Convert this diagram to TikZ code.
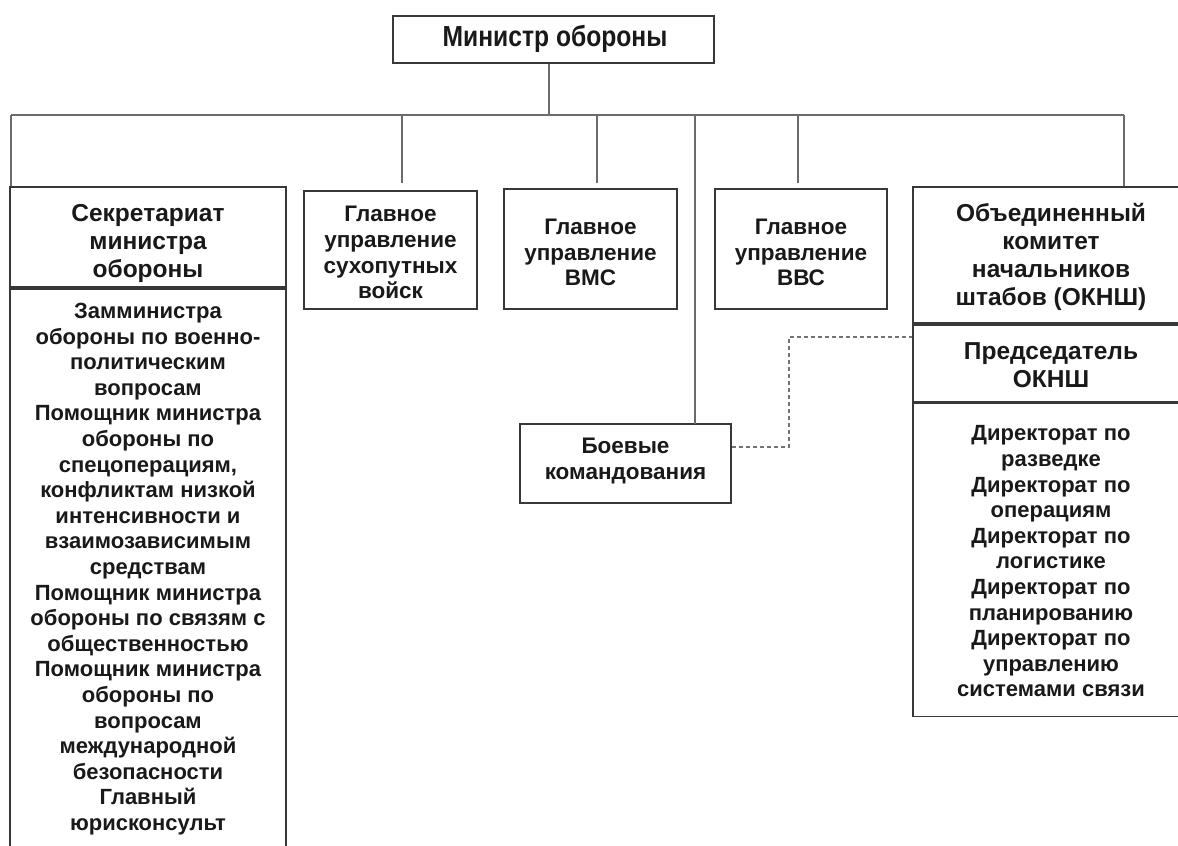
\documentclass[tikz,border=0pt]{standalone}
\usepackage{fontspec}
\setmainfont{Liberation Sans}
\begin{document}
\begin{tikzpicture}[x=1pt,y=-1pt,
  box/.style={draw=black!78,line width=1.7pt,fill=white,inner sep=0pt},
  lbl/.style={align=center,inner sep=0pt,text=black!90},
  fbody/.style={font=\bfseries\fontsize{22}{25.6}\selectfont},
  fmid/.style={font=\bfseries\fontsize{22.5}{25.8}\selectfont},
  fhead/.style={font=\bfseries\fontsize{24.5}{28}\selectfont},
  conn/.style={draw=black!58,line width=1.8pt},
  dconn/.style={draw=black!55,line width=1.5pt,dash pattern=on 4.5pt off 2.5pt}]
\clip (0,0) rectangle (1178,846);
\fill[white] (0,0) rectangle (1178,846);
% top
\node[box,minimum width=321pt,minimum height=47pt] (min) at (553.5,39.5) {};
\node[lbl,font=\bfseries\fontsize{29}{32}\selectfont] (mint) at (555,38.5) {\scalebox{0.85}[1]{Министр обороны}};
% left secretariat
\node[box,minimum width=276pt,minimum height=100pt] (sech) at (148,237) {};
\node[lbl,fhead] (secht) at (148,243.5) {Секретариат\\министра\\обороны};
\node[box,minimum width=276pt,minimum height=600pt,anchor=north] (secb) at (sech.south) {};
\node[lbl,fbody] (sect) at (148,569) {Замминистра\\обороны по военно-\\политическим\\вопросам\\Помощник министра\\обороны по\\спецоперациям,\\конфликтам низкой\\интенсивности и\\взаимозависимым\\средствам\\Помощник министра\\обороны по связям с\\общественностью\\Помощник министра\\обороны по\\вопросам\\международной\\безопасности\\Главный\\юрисконсульт};
% main directorates
\node[box,minimum width=173pt,minimum height=118pt] (gu1) at (390.5,250) {};
\node[lbl,fmid] (gu1t) at (390.5,252.5) {Главное\\управление\\сухопутных\\войск};
\node[box,minimum width=173pt,minimum height=120pt] (gu2) at (590.5,249) {};
\node[lbl,fmid] (gu2t) at (590.5,252.5) {Главное\\управление\\ВМС};
\node[box,minimum width=172pt,minimum height=120pt] (gu3) at (801,249) {};
\node[lbl,fmid] (gu3t) at (801,252.5) {Главное\\управление\\ВВС};
\node[box,minimum width=211pt,minimum height=79pt] (boe) at (625.5,463.5) {};
\node[lbl,fmid] (boet) at (625.5,461) {Боевые\\командования};
% JCS
\node[box,minimum width=278pt,minimum height=136pt] (okh) at (1052,255) {};
\node[lbl,fhead] (okht) at (1051,256.5) {Объединенный\\комитет\\начальников\\штабов (ОКНШ)};
\node[box,minimum width=278pt,minimum height=77pt,anchor=north] (okc) at (okh.south) {};
\node[lbl,fhead] (okct) at (1051,365) {Председатель\\ОКНШ};
\node[box,minimum width=278pt,minimum height=313pt,anchor=north] (okb) at (okc.south) {};
\node[lbl,fbody] (okbt) at (1051,561.5) {Директорат по\\разведке\\Директорат по\\операциям\\Директорат по\\логистике\\Директорат по\\планированию\\Директорат по\\управлению\\системами связи};
% connectors
\coordinate (bus) at (549,115);
\coordinate (busl) at (11,115);
\coordinate (busr) at (1124,115);
\draw[conn] ([xshift=-4.5pt]min.south) -- (bus);
\draw[conn] (busl) -- (busr);
\draw[conn] (busl) -- (busl|-sech.north);
\coordinate (d1) at (402,183);
\coordinate (d2) at (597,183);
\coordinate (d3) at (798,183);
\draw[conn] (d1|-bus) -- (d1);
\draw[conn] (d2|-bus) -- (d2);
\draw[conn] (d3|-bus) -- (d3);
\draw[conn] (busr) -- (busr|-okh.north);
\draw[conn] (695,115) -- (695,424);
\coordinate (dk) at (789,337);
\draw[dconn] (boe.east|-0,447) -| (dk) -- (okh.west|-dk);
\end{tikzpicture}
\end{document}
